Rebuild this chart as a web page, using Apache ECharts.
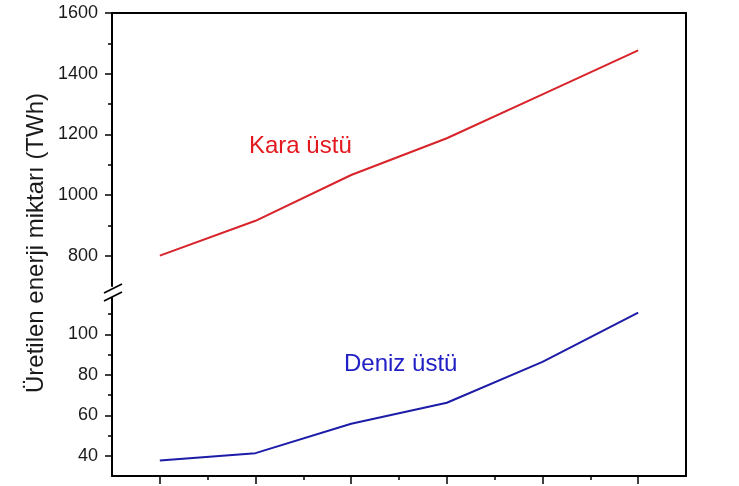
<!DOCTYPE html>
<html>
<head>
<meta charset="utf-8">
<script src="https://cdn.jsdelivr.net/npm/echarts@6/dist/echarts.min.js"></script>
<style>html,body{margin:0;padding:0;background:#fff}#c{width:739px;height:486px}</style>
</head>
<body>
<div id="c"></div>
<script>
var categories = ['1', '2', '3', '4', '5', '6'];
var karaUstu = [800, 915, 1066, 1187, 1332, 1477];
var denizUstu = [37.7, 41.3, 55.8, 66.2, 86.4, 110.8];
var topMajorTicks = [800, 1000, 1200, 1400, 1600];
var topMinorTicks = [900, 1100, 1300, 1500];
var bottomMajorTicks = [40, 60, 80, 100];
var bottomMinorTicks = [50, 70, 90, 110];
var xMinorTicks = [0.5, 1.5, 2.5, 3.5, 4.5];

var FONT = 'Liberation Sans, Arial, sans-serif';
var RED = '#d8232a', BLUE = '#1c1ca8';
var chart = echarts.init(document.getElementById('c'), null, {renderer: 'canvas'});

function yMajor(grid, min, max, ticks) {
  return {
    type: 'value', gridIndex: grid, position: 'left', min: min, max: max,
    axisLine: {show: true, onZero: false, lineStyle: {color: '#000', width: 2}},
    axisTick: {show: true, inside: false, length: 7, customValues: ticks, lineStyle: {color: '#000', width: 1.5}},
    axisLabel: {show: true, customValues: ticks, margin: 14, color: '#1a1a1a', fontSize: 18, fontFamily: FONT,
      formatter: function (v) { return String(v); }},
    splitLine: {show: false}
  };
}
function yMinor(grid, min, max, ticks) {
  return {
    type: 'value', gridIndex: grid, position: 'left', min: min, max: max,
    axisLine: {show: false, onZero: false},
    axisTick: {show: true, inside: false, length: 4, customValues: ticks, lineStyle: {color: '#000', width: 1.5}},
    axisLabel: {show: false},
    splitLine: {show: false}
  };
}

var option = {
  animation: false,
  backgroundColor: '#fff',
  grid: [
    {left: 112, right: 53, top: 13, height: 273},
    {left: 112, right: 53, top: 298, bottom: 10},
    {left: 112, right: 53, top: 13, bottom: 10}
  ],
  xAxis: [
    {type: 'category', gridIndex: 0, data: categories, boundaryGap: true,
     axisLine: {show: false, onZero: false}, axisTick: {show: false}, axisLabel: {show: false}},
    {type: 'category', gridIndex: 1, data: categories, boundaryGap: true, position: 'bottom',
     axisLine: {show: true, onZero: false, lineStyle: {color: '#000', width: 2}},
     axisTick: {show: true, alignWithLabel: true, length: 8, lineStyle: {color: '#000', width: 1.5}},
     axisLabel: {show: false}},
    {type: 'value', gridIndex: 1, min: -0.5, max: 5.5, position: 'bottom',
     axisLine: {show: false, onZero: false},
     axisTick: {show: true, length: 4, customValues: xMinorTicks, lineStyle: {color: '#000', width: 1.5}},
     axisLabel: {show: false}, splitLine: {show: false}},
    {type: 'value', gridIndex: 2, min: 0, max: 1, position: 'top',
     axisLine: {show: true, onZero: false, lineStyle: {color: '#000', width: 2}},
     axisTick: {show: false}, axisLabel: {show: false}, splitLine: {show: false}}
  ],
  yAxis: [
    yMajor(0, 700, 1600, topMajorTicks),
    yMinor(0, 700, 1600, topMinorTicks),
    yMajor(1, 30, 118, bottomMajorTicks),
    yMinor(1, 30, 118, bottomMinorTicks),
    {type: 'value', gridIndex: 2, min: 0, max: 1, position: 'right',
     axisLine: {show: true, onZero: false, lineStyle: {color: '#000', width: 2}},
     axisTick: {show: false}, axisLabel: {show: false}, splitLine: {show: false}}
  ],
  series: [
    {type: 'line', name: 'Kara üstü', xAxisIndex: 0, yAxisIndex: 0, data: karaUstu,
     showSymbol: false, symbol: 'none', lineStyle: {color: RED, width: 2}},
    {type: 'line', name: 'Deniz üstü', xAxisIndex: 1, yAxisIndex: 2, data: denizUstu,
     showSymbol: false, symbol: 'none', lineStyle: {color: BLUE, width: 2}}
  ],
  graphic: [
    {type: 'text', left: 24, top: 'middle', rotation: Math.PI / 2,
     style: {text: 'Üretilen enerji miktarı (TWh)', fill: '#1a1a1a', font: '24px ' + FONT}},
    {type: 'text', left: 249, top: 134,
     style: {text: 'Kara üstü', fill: '#e3191e', font: '24px ' + FONT}},
    {type: 'text', left: 344, top: 352,
     style: {text: 'Deniz üstü', fill: '#2020c4', font: '24px ' + FONT}},
    {type: 'line', shape: {x1: 104, y1: 293, x2: 122, y2: 284}, style: {stroke: '#000', lineWidth: 1.8}},
    {type: 'line', shape: {x1: 104, y1: 301, x2: 122, y2: 292}, style: {stroke: '#000', lineWidth: 1.8}}
  ]
};
chart.setOption(option);
</script>
</body>
</html>
